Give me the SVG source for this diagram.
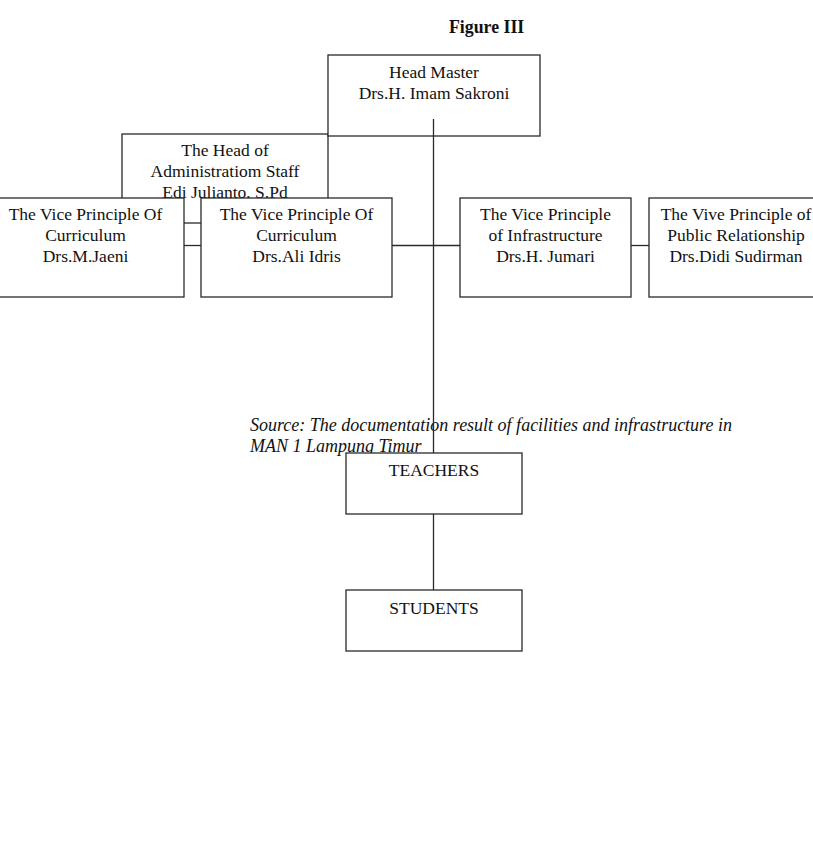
<svg xmlns="http://www.w3.org/2000/svg" width="813" height="852" viewBox="0 0 813 852">
<style>
text{font-family:"Liberation Serif","Times New Roman",serif;font-size:17.5px;fill:#111;}
.c{text-anchor:middle;}
.box{fill:#fff;stroke:#2a2a2a;stroke-width:1.3;}
.ln{stroke:#2a2a2a;stroke-width:1.3;fill:none;}
.title{font-weight:bold;font-size:17.8px;}
.src{font-style:italic;font-size:18px;}
</style>
<rect width="813" height="852" fill="#fff"/>
<text class="title" x="449" y="32.5">Figure III</text>
<g id="admin">
<rect class="box" x="122" y="134" width="206" height="89"/>
<text class="c" x="225" y="156">The Head of</text>
<text class="c" x="225" y="177">Administratiom Staff</text>
<text class="c" x="225" y="197.5">Edi Julianto, S.Pd</text>
</g>
<g id="headmaster">
<rect class="box" x="328" y="55" width="212" height="81"/>
<text class="c" x="434" y="78">Head Master</text>
<text class="c" x="434" y="99">Drs.H. Imam Sakroni</text>
</g>
<g id="vice-curriculum-1">
<rect class="box" x="-13" y="198" width="197" height="99"/>
<text class="c" x="85.5" y="220">The Vice Principle Of</text>
<text class="c" x="85.5" y="241">Curriculum</text>
<text class="c" x="85.5" y="262">Drs.M.Jaeni</text>
</g>
<g id="vice-curriculum-2">
<rect class="box" x="201" y="198" width="191" height="99"/>
<text class="c" x="296.5" y="220">The Vice Principle Of</text>
<text class="c" x="296.5" y="241">Curriculum</text>
<text class="c" x="296.5" y="262">Drs.Ali Idris</text>
</g>
<g id="vice-infrastructure">
<rect class="box" x="460" y="198" width="171" height="99"/>
<text class="c" x="545.5" y="220">The Vice Principle</text>
<text class="c" x="545.5" y="241">of Infrastructure</text>
<text class="c" x="545.5" y="262">Drs.H. Jumari</text>
</g>
<g id="vice-public">
<rect class="box" x="649" y="198" width="174" height="99"/>
<text class="c" x="736" y="220">The Vive Principle of</text>
<text class="c" x="736" y="241">Public Relationship</text>
<text class="c" x="736" y="262">Drs.Didi Sudirman</text>
</g>
<g id="source">
<text class="src" x="250" y="431">Source: The documentation result of facilities and infrastructure in</text>
<text class="src" x="250" y="451.5">MAN 1 Lampung Timur</text>
</g>
<g id="teachers">
<rect class="box" x="346" y="453" width="176" height="61"/>
<text class="c" x="434" y="476">TEACHERS</text>
</g>
<g id="students">
<rect class="box" x="346" y="590" width="176" height="61"/>
<text class="c" x="434" y="614">STUDENTS</text>
</g>
<g id="connectors">
<line class="ln" x1="433.5" y1="119" x2="433.5" y2="453"/>
<line class="ln" x1="433.5" y1="514" x2="433.5" y2="590"/>
<line class="ln" x1="184" y1="245.5" x2="201" y2="245.5"/>
<line class="ln" x1="392" y1="245.5" x2="460" y2="245.5"/>
<line class="ln" x1="631" y1="245.5" x2="649" y2="245.5"/>
</g>
</svg>
